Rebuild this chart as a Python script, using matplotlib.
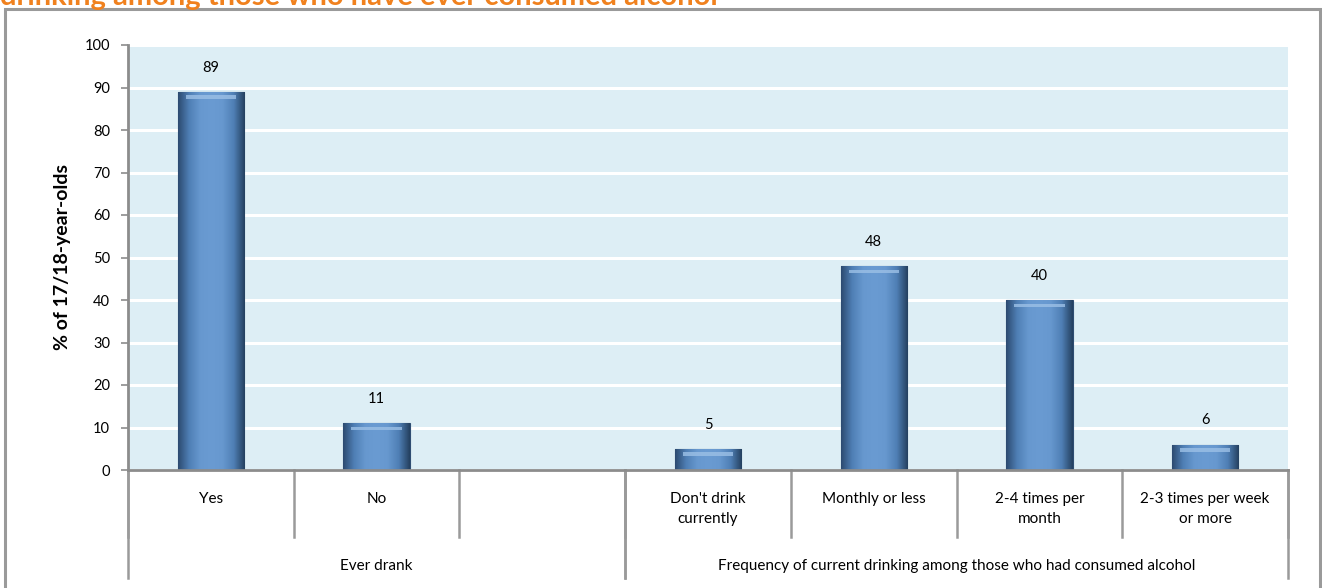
import matplotlib
matplotlib.use("Agg")
import matplotlib.pyplot as plt
import numpy as np
from matplotlib.patches import Rectangle
from matplotlib.colors import LinearSegmentedColormap

plt.rcParams['font.family'] = ['Lato', 'DejaVu Sans']

categories = ["Yes", "No", "", "Don't drink\ncurrently", "Monthly or less",
              "2-4 times per\nmonth", "2-3 times per week\nor more"]
values = [89, 11, None, 5, 48, 40, 6]
groups = ["Ever drank", "Frequency of current drinking among those who had consumed alcohol"]
group_spans = [(0, 2), (3, 6)]
yticks = list(range(0, 101, 10))
ylabel = "% of 17/18-year-olds"
title = "drinking among those who have ever consumed alcohol"

W, H = 1322, 588
fig = plt.figure(figsize=(W / 100, H / 100), dpi=100)

# outer frame
fig.patches.append(Rectangle((5 / W, -0.05), (1320 - 5) / W, 1.05 - 9 / H,
                             transform=fig.transFigure, fill=False,
                             edgecolor='#9a9a9a', linewidth=2.2, zorder=0))
# clipped title (cut off at the top edge, as in the source)
fig.text(0 / W, 1 - 5 / H, title, ha='left', va='baseline', color='#F0811E',
         fontsize=21, fontweight='bold')

ax = fig.add_axes([128 / W, 1 - 470 / H, (1288 - 128) / W, 425 / H])
ax.set_facecolor('#DDEEF5')
ax.set_yticks(yticks)
ax.tick_params(axis='y', length=5, width=1.2, color='#8c8c8c', labelsize=10.5, pad=8)
ax.set_xticks([])
for s in ['top', 'right']:
    ax.spines[s].set_visible(False)
for s in ['left', 'bottom']:
    ax.spines[s].set_color('#8c8c8c')
    ax.spines[s].set_linewidth(2)
ax.grid(axis='y', color='white', linewidth=2.2)
ax.set_axisbelow(True)
ax.set_ylabel(ylabel, fontsize=14, fontweight='bold', labelpad=10)

cmap = LinearSegmentedColormap.from_list('bar', ['#2c4a70', '#4f7fb5', '#6798cf', '#6a9bd2', '#6798cf', '#4f7fb5', '#24405f'])
xs = [i for i, v in enumerate(values) if v is not None]
vs = [v for v in values if v is not None]
bw = 0.4
bars = ax.bar(xs, vs, width=bw, color='#6192c8', edgecolor='#2f4d72', linewidth=0.8, zorder=2)
grad = np.linspace(0, 1, 256).reshape(1, -1)
for b, v in zip(bars, vs):
    x0 = b.get_x()
    im = ax.imshow(grad, cmap=cmap, extent=[x0, x0 + bw, 0, v], aspect='auto', zorder=2.5)
    im.set_clip_path(b)
    hh = min(2.2, v * 0.45)
    top = Rectangle((x0 + bw * 0.12, v - hh * 0.75), bw * 0.76, hh * 0.35,
                    facecolor='#9cc0e6', edgecolor='none', alpha=0.8, zorder=3)
    ax.add_patch(top)
    ax.text(b.get_x() + bw / 2, v + 4, f"{v}", ha='center', va='bottom', fontsize=10.5, zorder=4)
ax.set_aspect('auto')
ax.set_xlim(-0.5, len(categories) - 0.5)
ax.set_ylim(0, 100)

trans = ax.get_xaxis_transform()
lc = '#9a9a9a'
n = len(categories)
for i in range(n + 1):
    xb = i - 0.5
    ax.plot([xb, xb], [0, -0.157], transform=trans, color=lc, lw=1.8, clip_on=False)
for (a, b) in group_spans:
    for xb in (a - 0.5, b + 0.5):
        ax.plot([xb, xb], [0, -0.254], transform=trans, color=lc, lw=1.8, clip_on=False)
for i, c in enumerate(categories):
    ax.text(i, -0.052, c, transform=trans, ha='center', va='top', fontsize=11, linespacing=1.5)
for g, (a, b) in zip(groups, group_spans):
    ax.text((a + b) / 2, -0.225, g, transform=trans, ha='center', va='center', fontsize=11)

fig.savefig('out.png', dpi=100)
